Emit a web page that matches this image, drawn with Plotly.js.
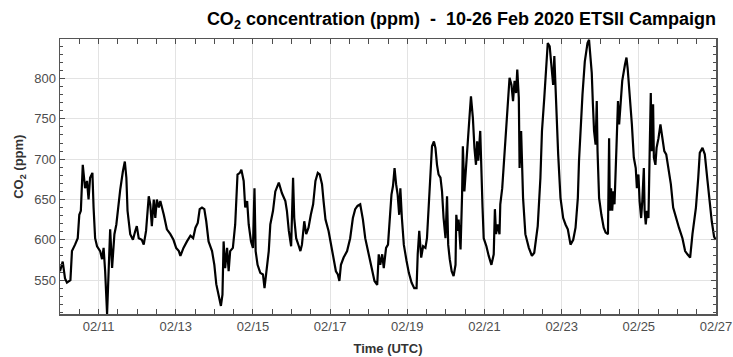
<!DOCTYPE html>
<html>
<head>
<meta charset="utf-8">
<script src="https://cdn.plot.ly/plotly-3.0.1.min.js"></script>
<style>html,body{margin:0;padding:0;background:#fff;}#chart{width:733px;height:357px;}</style>
</head>
<body>
<div id="chart"></div>
<script>
// Days since 2020-02-10 00:00 UTC
const days = [
0.00,0.07,0.13,0.18,0.27,0.31,0.39,0.46,0.50,0.54,0.59,0.65,0.70,0.74,0.78,0.84,0.87,0.91,0.96,
1.04,1.09,1.13,1.17,1.22,1.26,1.30,1.35,1.41,1.46,1.52,1.56,1.63,1.68,1.72,1.75,1.82,1.89,1.95,1.99,
2.04,2.12,2.17,2.23,2.30,2.34,2.38,2.43,2.47,2.51,2.56,2.60,2.69,2.77,2.86,2.94,
3.01,3.08,3.12,3.20,3.29,3.38,3.45,3.51,3.57,3.62,3.68,3.74,3.79,3.85,3.94,
4.00,4.05,4.11,4.17,4.21,4.24,4.28,4.33,4.37,4.41,4.48,4.54,4.60,4.66,4.70,4.76,4.80,4.85,4.89,4.95,
5.00,5.04,5.07,5.12,5.19,5.26,5.30,5.35,5.41,5.45,5.52,5.58,5.67,5.75,5.84,5.88,5.93,5.99,
6.04,6.07,6.12,6.19,6.23,6.27,6.33,6.38,6.44,6.50,6.56,6.62,6.68,6.73,6.79,6.83,6.88,6.96,
7.01,7.05,7.11,7.15,7.20,7.24,7.28,7.35,7.44,7.52,7.59,7.65,7.71,7.78,7.85,7.91,
8.00,8.09,8.15,8.22,8.26,8.30,8.35,8.39,8.45,8.50,8.54,8.59,8.63,8.67,8.71,8.75,8.79,8.82,8.86,8.91,8.98,
9.04,9.11,9.18,9.24,9.27,9.31,9.36,9.41,9.47,9.51,9.56,9.60,9.64,9.69,9.73,9.77,9.81,9.86,9.90,9.94,9.99,
10.03,10.06,10.10,10.15,10.20,10.25,10.27,10.31,10.33,10.38,10.42,10.44,10.48,10.52,10.57,10.61,10.65,10.70,10.74,10.78,10.81,10.84,10.89,10.91,10.95,10.98,
11.05,11.11,11.18,11.24,11.27,11.30,11.34,11.39,11.41,11.46,11.52,11.59,11.65,11.70,11.74,11.78,11.82,11.85,11.89,11.91,11.95,
12.00,12.06,12.15,12.23,12.29,12.35,12.38,12.45,12.49,12.55,12.60,12.64,12.69,12.74,12.78,12.81,12.84,12.88,12.91,12.97,
13.04,13.10,13.16,13.23,13.30,13.36,13.42,13.45,13.49,13.54,13.60,13.67,13.71,13.74,13.78,13.81,13.84,13.88,13.91,13.93,13.97,
14.03,14.09,14.14,14.20,14.23,14.25,14.28,14.31,14.34,14.37,14.42,14.46,14.49,14.53,14.57,14.64,14.68,14.71,14.76,14.82,14.87,14.92,14.95,14.99,
15.02,15.06,15.09,15.13,15.15,15.18,15.21,15.25,15.28,15.31,15.33,15.37,15.39,15.43,15.46,15.51,15.56,15.61,15.66,15.71,15.77,15.83,15.89,15.96,
16.04,16.13,16.20,16.26,16.33,16.39,16.48,16.54,16.58,16.65,16.71,16.78,16.84,16.89,16.95,16.99
];
// CO2 concentration (ppm)
const co2 = [
561,573,552,547,550,586,594,602,631,636,693,664,673,650,677,683,640,602,592,
586,576,590,561,508,561,613,565,607,619,648,662,685,697,677,636,607,600,611,617,
602,600,594,611,654,644,617,650,627,650,640,648,631,613,607,600,
590,586,580,590,598,605,602,615,621,638,640,638,623,598,586,
569,545,532,518,532,598,565,590,561,586,590,619,681,683,687,673,640,648,619,598,
590,664,586,569,559,557,540,561,586,619,636,660,671,658,648,636,611,592,
677,627,602,592,586,594,623,607,615,631,644,673,683,681,669,648,625,611,
598,590,574,561,557,549,569,578,586,602,627,638,642,644,625,602,
582,561,549,544,582,569,582,565,590,594,627,656,667,689,669,656,631,664,627,594,574,
559,547,540,540,582,611,578,592,590,602,644,689,716,722,714,693,681,677,660,627,602,
654,594,576,561,555,569,631,611,625,588,656,716,660,693,726,751,778,751,714,693,722,698,735,689,640,602,
592,580,569,582,638,607,619,607,644,664,710,755,801,792,772,797,782,811,776,689,735,
652,607,590,580,584,607,617,677,735,776,813,844,840,817,792,828,786,749,706,652,
627,619,613,594,600,615,652,698,739,780,821,844,848,834,807,768,735,718,772,710,652,
631,615,609,607,726,636,664,636,660,644,714,772,743,768,797,817,826,813,785,743,702,689,664,681,
648,627,648,689,636,619,636,627,706,782,710,768,702,693,714,726,743,726,710,706,685,669,640,627,
615,602,586,582,578,607,640,677,708,714,706,673,644,623,604,600
];
const startDate = '2020-02-10';
const endDate = '2020-02-27';
const yRange = [508, 849];
const titleText = 'CO<sub>2</sub> concentration (ppm)\u00A0\u00A0-\u00A0\u00A010-26 Feb 2020 ETSII Campaign';
const xTitle = 'Time (UTC)';
const yTitle = 'CO<sub>2</sub> (ppm)';

const t0 = Date.UTC(2020, 1, 10);
const times = days.map(d => new Date(t0 + d * 86400000).toISOString().replace('T', ' ').slice(0, 19));

const FONT = 'Liberation Sans, Arial, Helvetica, sans-serif';
const trace = {
  x: times, y: co2, type: 'scatter', mode: 'lines',
  line: {color: '#000', width: 2.2}, hoverinfo: 'skip'
};
const layout = {
  width: 733, height: 357,
  margin: {l: 60, r: 17, t: 39, b: 43},
  paper_bgcolor: '#fff', plot_bgcolor: '#fff',
  showlegend: false,
  font: {family: FONT, color: '#4d4d4d', size: 13},
  title: {
    text: titleText, font: {family: FONT, size: 18, color: '#000', weight: 'bold'},
    xref: 'paper', x: 1, xanchor: 'right', yref: 'container', y: 0.948, yanchor: 'middle'
  },
  xaxis: {
    type: 'date', range: [startDate, endDate],
    tick0: '2020-02-11', dtick: 2 * 86400000, tickformat: '%m/%d',
    ticks: 'inside', ticklen: 5, tickwidth: 1, tickcolor: '#4d4d4d',
    showline: true, linecolor: '#555', linewidth: 1.5, mirror: 'allticks',
    showgrid: true, gridcolor: '#e3e3e3', gridwidth: 1, zeroline: false,
    tickfont: {family: FONT, size: 13, color: '#4d4d4d'},
    minor: {dtick: 43200000, ticks: 'inside', ticklen: 5, tickcolor: '#4d4d4d', showgrid: false},
    title: {text: xTitle, font: {family: FONT, size: 13, color: '#333', weight: 'bold'}, standoff: 11}
  },
  yaxis: {
    range: yRange, dtick: 50, tick0: 550,
    ticks: 'inside', ticklen: 5, tickwidth: 1, tickcolor: '#4d4d4d',
    showline: true, linecolor: '#555', linewidth: 1.5, mirror: 'allticks',
    showgrid: true, gridcolor: '#e3e3e3', gridwidth: 1, zeroline: false,
    tickfont: {family: FONT, size: 13, color: '#4d4d4d'},
    minor: {dtick: 10, ticks: 'inside', ticklen: 3, tickcolor: '#4d4d4d', showgrid: false},
    title: {text: ''}
  },
  annotations: [{
    text: yTitle, textangle: -90, showarrow: false,
    xref: 'paper', x: -0.061, xanchor: 'center',
    yref: 'paper', y: 0.535, yanchor: 'middle',
    font: {family: FONT, size: 13, color: '#333', weight: 'bold'}
  }]
};
Plotly.newPlot('chart', [trace], layout, {displayModeBar: false, staticPlot: true});
</script>
</body>
</html>
